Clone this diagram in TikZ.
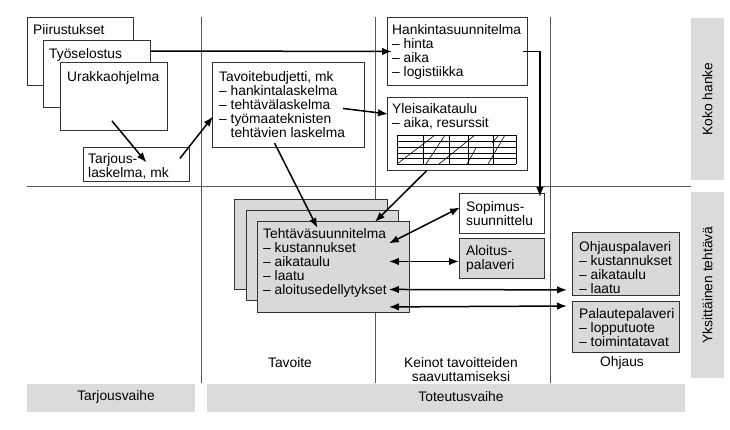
\documentclass[tikz,border=0pt]{standalone}
\usepackage{fontspec}
\setmainfont{Liberation Sans}
\usetikzlibrary{arrows.meta,calc}

\tikzset{
  box/.style={draw=black!80, line width=0.9pt, fill=white, anchor=north west, inner sep=0pt},
  graybox/.style={box, fill=black!15},
  txt/.style={anchor=north west, inner sep=0pt, align=left},
  bar/.style={fill=black!14, inner sep=0pt},
  divider/.style={draw=black!65, line width=0.9pt},
  arr/.style={line width=1.5pt, -{Latex[length=10pt,width=7.5pt]}},
  darr/.style={line width=1.5pt, {Latex[length=10pt,width=7.5pt]}-{Latex[length=10pt,width=7.5pt]}},
}

\begin{document}
\begin{tikzpicture}[x=1pt, y=-1pt, font=\fontsize{13.8}{14}\selectfont]
  \useasboundingbox (0,0) rectangle (730,429);

  % jakoviivat
  \draw[divider] (201,17) -- (201,383);
  \draw[divider] (375,17) -- (375,383);
  \draw[divider] (550,17) -- (550,383);
  \draw[divider] (27,186) -- (691,186);

  % reunapalkit
  \node[bar, minimum width=162pt, minimum height=33pt, rotate=90] (koko) at (707.5,99) {Koko hanke};
  \node[bar, minimum width=186pt, minimum height=33pt, rotate=90] (yksi) at (707.5,285) {Yksittäinen tehtävä};
  \node[bar, minimum width=168pt, minimum height=28pt, anchor=north west] (tarjv) at (27,384) {};
  \node (tarjvT) at (116,397) {Tarjousvaihe};
  \node[bar, minimum width=478pt, minimum height=28pt, anchor=north west] (totv) at (207,384) {};
  \node (totvT) at (461,397) {Toteutusvaihe};

  % tarjousvaihe
  \node[box, minimum width=106pt, minimum height=68pt] (piir) at (27,17) {};
  \node[txt] (piirT) at ([shift={(6pt,-7pt)}]piir.north west) {Piirustukset};
  \node[box, minimum width=107pt, minimum height=67pt] (tyo) at (43,40) {};
  \node[txt] (tyoT) at ([shift={(6pt,-8pt)}]tyo.north west) {Työselostus};
  \node[box, minimum width=107pt, minimum height=68pt] (urak) at (60,62) {};
  \node[txt] (urakT) at ([shift={(7pt,-9pt)}]urak.north west) {Urakkaohjelma};
  \node[box, minimum width=106pt, minimum height=34pt] (tarj) at (83,147) {};
  \node[txt] (tarjT) at ([shift={(5pt,-6pt)}]tarj.north west) {Tarjous-\\laskelma, mk};

  % koko hanke
  \node[box, minimum width=152pt, minimum height=85pt] (tav) at (212,62) {};
  \node[txt] (tavT) at ([shift={(7pt,-9pt)}]tav.north west)
    {Tavoitebudjetti, mk\\– hankintalaskelma\\– tehtävälaskelma\\– työmaateknisten\\\phantom{– }tehtävien laskelma};
  \node[box, minimum width=140pt, minimum height=68pt] (hank) at (387,17) {};
  \node[txt] (hankT) at ([shift={(5pt,-7pt)}]hank.north west)
    {Hankintasuunnitelma\\– hinta\\– aika\\– logistiikka};
  \node[box, minimum width=140pt, minimum height=73pt] (yleis) at (387,97) {};
  \node[txt] (yleisT) at ([shift={(5pt,-6pt)}]yleis.north west)
    {Yleisaikataulu\\– aika, resurssit};

  % aikataulun ruudukko
  \foreach \y in {135,141,147,153,158,164}
    \draw[line width=0.6pt] (397,\y) -- (516,\y);
  \foreach \x in {397,423,449,468,493,516}
    \draw[line width=0.6pt] (\x,135) -- (\x,164);
  \draw[line width=0.6pt] (397,164) -- (435,135);
  \draw[line width=0.6pt] (426,164) -- (445,135);
  \draw[line width=0.6pt] (439,164) -- (475,135);
  \draw[line width=0.6pt] (467,164) -- (476,148);
  \draw[line width=0.6pt] (488,164) -- (505,135);
  \draw[line width=0.6pt] (492,143) -- (499,135);

  % yksittäinen tehtävä
  \node[graybox, minimum width=153pt, minimum height=90pt] (tehA) at (234,199) {};
  \node[graybox, minimum width=152pt, minimum height=90pt] (tehB) at (246,210) {};
  \node[graybox, minimum width=152pt, minimum height=91pt] (teh) at (257,221) {};
  \node[txt] (tehT) at ([shift={(6pt,-7pt)}]teh.north west)
    {Tehtäväsuunnitelma\\– kustannukset\\– aikataulu\\– laatu\\– aloitusedellytykset};
  \node[box, minimum width=85pt, minimum height=40pt] (sop) at (459,193) {};
  \node[txt] (sopT) at ([shift={(7pt,-8pt)}]sop.north west) {Sopimus-\\suunnittelu};
  \node[graybox, minimum width=85pt, minimum height=40pt] (aloit) at (459,238) {};
  \node[txt] (aloitT) at ([shift={(7pt,-7pt)}]aloit.north west) {Aloitus-\\palaveri};
  \node[graybox, minimum width=107pt, minimum height=63pt] (ohj) at (572,232) {};
  \node[txt] (ohjT) at ([shift={(7pt,-9pt)}]ohj.north west)
    {Ohjauspalaveri\\– kustannukset\\– aikataulu\\– laatu};
  \node[graybox, minimum width=107pt, minimum height=51pt] (pal) at (572,301) {};
  \node[txt] (palT) at ([shift={(7pt,-7pt)}]pal.north west)
    {Palautepalaveri\\– lopputuote\\– toimintatavat};

  % sarakkeiden otsikot
  \node (tavoite) at (290,363) {Tavoite};
  \node[align=center] (keinot) at (461,369.5) {Keinot tavoitteiden\\saavuttamiseksi};
  \node (ohjaus) at (622,363) {Ohjaus};

  % nuolet
  \draw[arr] ([yshift=-11pt]tyo.north east) -- ([xshift=5pt]hank.west);
  \draw[arr] ([xshift=-5pt]hank.east) -| ([shift={(-5pt,-4pt)}]sop.north east);
  \draw[arr] ([shift={(-2pt,10pt)}]urak.south) -- ([shift={(10pt,2pt)}]tarj.center);
  \draw[arr] ([shift={(-10pt,6pt)}]tarj.east) -- ([shift={(1pt,-11.5pt)}]tav.west);
  \draw[arr] ([shift={(-22pt,-3.5pt)}]tav.east) -- ([shift={(1pt,-17pt)}]yleis.north west);
  \draw[arr] ([shift={(-14pt,5pt)}]tav.south) -- ([shift={(-16pt,-7pt)}]teh.north);
  \draw[arr] ([xshift=-31pt]yleis.south) -- ([shift={(-35pt,-1pt)}]teh.north east);
  \draw[darr] ([shift={(-21pt,23.5pt)}]teh.east) -- ([shift={(1pt,6pt)}]sop.west);
  \draw[darr] ([shift={(-21pt,5.5pt)}]teh.east) -- ([yshift=-3pt]aloit.west);
  \draw[darr] ([shift={(-21pt,-22.5pt)}]teh.east) -- ([shift={(-5pt,6pt)}]ohj.south west);
  \draw[darr] ([shift={(-21pt,6pt)}]teh.south east) -- ([shift={(-5pt,-5pt)}]pal.north west);
\end{tikzpicture}
\end{document}
